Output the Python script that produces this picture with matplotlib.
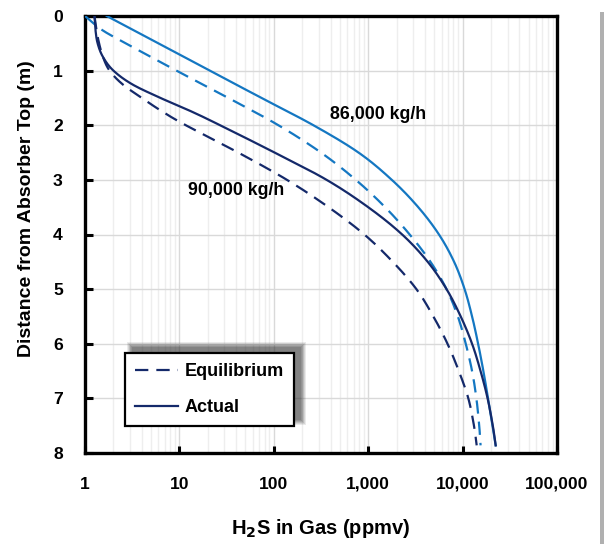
import matplotlib
matplotlib.use("Agg")
import matplotlib.pyplot as plt
from matplotlib.ticker import FixedLocator, FuncFormatter, LogLocator, NullFormatter
from matplotlib.patches import Rectangle
from matplotlib.lines import Line2D
import numpy as np

# depth from absorber top (m) and H2S in gas (ppmv)
depth_86_actual = [0, 0.5, 1.0, 1.5, 2.0, 2.5, 3.0, 3.5, 4.0, 4.5, 5.0, 5.5, 6.0, 6.5, 7.0, 7.5, 7.86]
ppm_86_actual = [1.7, 6.0, 21, 74, 263, 790, 1780, 3390, 5620, 8130, 10500, 12600, 14600, 16600, 18600, 20700, 22400]

depth_86_equil = [0, 0.25, 0.5, 1.0, 1.5, 2.0, 2.5, 3.0, 3.5, 4.0, 4.5, 5.0, 5.5, 6.0, 6.5, 7.0, 7.5, 7.86]
ppm_86_equil = [1.0, 1.5, 2.7, 9.3, 33, 112, 316, 740, 1510, 2750, 4570, 6760, 8910, 10800, 12600, 14000, 15000, 15500]

depth_90_actual = [0, 0.25, 0.5, 0.75, 1.0, 1.25, 1.5, 1.75, 2.0, 2.5, 3.0, 3.5, 4.0, 4.5, 5.0, 5.5, 6.0, 6.5, 7.0, 7.5, 7.86]
ppm_90_actual = [1.26, 1.29, 1.36, 1.55, 2.0, 3.16, 6.3, 13.5, 27, 102, 363, 1000, 2290, 4270, 6760, 9550, 12600, 15500, 18400, 20900, 22400]

depth_90_equil = [0, 0.25, 0.5, 0.75, 1.0, 1.25, 1.5, 1.75, 2.0, 2.5, 3.0, 3.5, 4.0, 4.5, 5.0, 5.5, 6.0, 6.5, 7.0, 7.5, 7.86]
ppm_90_equil = [1.26, 1.32, 1.41, 1.55, 1.82, 2.5, 4.0, 6.6, 11.7, 42, 138, 380, 910, 1820, 3240, 4900, 6920, 9120, 11500, 13200, 14100]

x_ticks = [1, 10, 100, 1000, 10000, 100000]
y_ticks = [0, 1, 2, 3, 4, 5, 6, 7, 8]
legend_labels = ["Equilibrium", "Actual"]
annot_86 = "86,000 kg/h"
annot_90 = "90,000 kg/h"

DARK = "#14296a"
LIGHT = "#1477c2"
FONT = ["Liberation Sans", "DejaVu Sans"]
plt.rcParams["font.family"] = FONT
plt.rcParams["font.weight"] = "bold"


def smooth(xs, ys, n=24):
    """Smoothed line (like a spreadsheet's smoothed line) through the points, in log-x space."""
    lx = np.log10(np.asarray(xs, float))
    y = np.asarray(ys, float)
    P = np.column_stack([lx, y])
    P = np.vstack([2 * P[0] - P[1], P, 2 * P[-1] - P[-2]])
    out = []
    t = np.linspace(0, 1, n, endpoint=False)[:, None]
    for i in range(1, len(P) - 2):
        p0, p1, p2, p3 = P[i - 1], P[i], P[i + 1], P[i + 2]
        seg = 0.5 * ((2 * p1) + (-p0 + p2) * t + (2 * p0 - 5 * p1 + 4 * p2 - p3) * t ** 2
                     + (-p0 + 3 * p1 - 3 * p2 + p3) * t ** 3)
        out.append(seg)
    out.append(P[-2][None, :])
    S = np.vstack(out)
    return 10 ** S[:, 0], S[:, 1]


fig = plt.figure(figsize=(6.04, 5.44), dpi=100)
ax = fig.add_axes([85 / 604, 1 - 453 / 544, (557 - 85) / 604, (453 - 16) / 544])

lw = 1.6
dash = (6, 3.6)
ax.plot(*smooth(ppm_86_actual, depth_86_actual), color=LIGHT, lw=lw, zorder=3)
ax.plot(*smooth(ppm_86_equil, depth_86_equil), color=LIGHT, lw=lw, dashes=dash, zorder=3)
ax.plot(*smooth(ppm_90_actual, depth_90_actual), color=DARK, lw=lw, zorder=3)
ax.plot(*smooth(ppm_90_equil, depth_90_equil), color=DARK, lw=lw, dashes=dash, zorder=3)

ax.set_xscale("log")
ax.set_xlim(1, 100000)
ax.set_ylim(8, 0)

ax.xaxis.set_major_locator(FixedLocator(x_ticks))
ax.xaxis.set_major_formatter(FuncFormatter(lambda v, p: f"{int(round(v)):,}"))
ax.xaxis.set_minor_locator(LogLocator(base=10, subs=np.arange(2, 10)))
ax.xaxis.set_minor_formatter(NullFormatter())
ax.yaxis.set_major_locator(FixedLocator(y_ticks))

ax.grid(True, which="major", color="#d9d9d9", lw=1.0, zorder=0)
ax.grid(True, which="minor", axis="x", color="#eeeeee", lw=1.0, zorder=0)
ax.set_axisbelow(True)

ax.tick_params(axis="x", which="major", direction="in", length=5, width=2.2, pad=17,
               colors="black")
ax.tick_params(axis="x", which="minor", length=0)
ax.tick_params(axis="y", which="major", direction="in", length=6, width=2.2, pad=16)
for lab in ax.get_xticklabels() + ax.get_yticklabels():
    lab.set_fontweight("bold")
    lab.set_fontsize(12.6)

for s in ax.spines.values():
    s.set_linewidth(2.4)
    s.set_color("black")

xl = ax.set_xlabel("H$_\\mathbf{2}$S in Gas (ppmv)", fontsize=14.5, fontweight="bold")
ax.xaxis.set_label_coords(0.5, (453 - 529) / 437)
xl.set_va("center")
yl = ax.set_ylabel("Distance from Absorber Top (m)", fontsize=14, fontweight="bold")
ax.yaxis.set_label_coords((27 - 85) / 472, 0.56)
yl.set_va("center")
yl.set_ha("center")

ax.text(1270, 1.8, annot_86, fontsize=12.8, fontweight="bold", ha="center", va="center", zorder=4)
ax.text(40, 3.2, annot_90, fontsize=12.8, fontweight="bold", ha="center", va="center", zorder=4)

handles = [Line2D([], [], color=DARK, lw=lw, dashes=dash),
           Line2D([], [], color=DARK, lw=lw)]
leg = ax.legend(handles, legend_labels, loc="upper left",
                bbox_to_anchor=((125 - 85) / 472, 1 - (353 - 16) / 437),
                prop={"size": 13, "weight": "bold", "family": FONT},
                frameon=True, fancybox=False, edgecolor="black", framealpha=1,
                handlelength=2.4, handletextpad=0.35, borderpad=0.55, labelspacing=1.05,
                borderaxespad=0)
leg.get_frame().set_linewidth(1.6)
leg.set_zorder(6)

# soft shadow behind legend (offset up-right)
fig.canvas.draw()
bb = leg.get_window_extent()
for i, a in enumerate([0.10, 0.12, 0.14, 0.16, 0.18, 0.20]):
    g = 6 - i
    r = Rectangle((bb.x0 + 8 - g, bb.y0 + 7 - g), bb.width + 2 * g - 2, bb.height + 2 * g - 2,
                  transform=None, facecolor="#3a3a3a", edgecolor="none", alpha=a, zorder=5)
    ax.add_artist(r)

# figure edge shadow at right
fig.add_artist(Rectangle((600 / 604, 0), 4 / 604, 1 - 12 / 544, transform=fig.transFigure,
                         facecolor="#b0b0b0", edgecolor="none"))

fig.savefig("out.png", dpi=100)
